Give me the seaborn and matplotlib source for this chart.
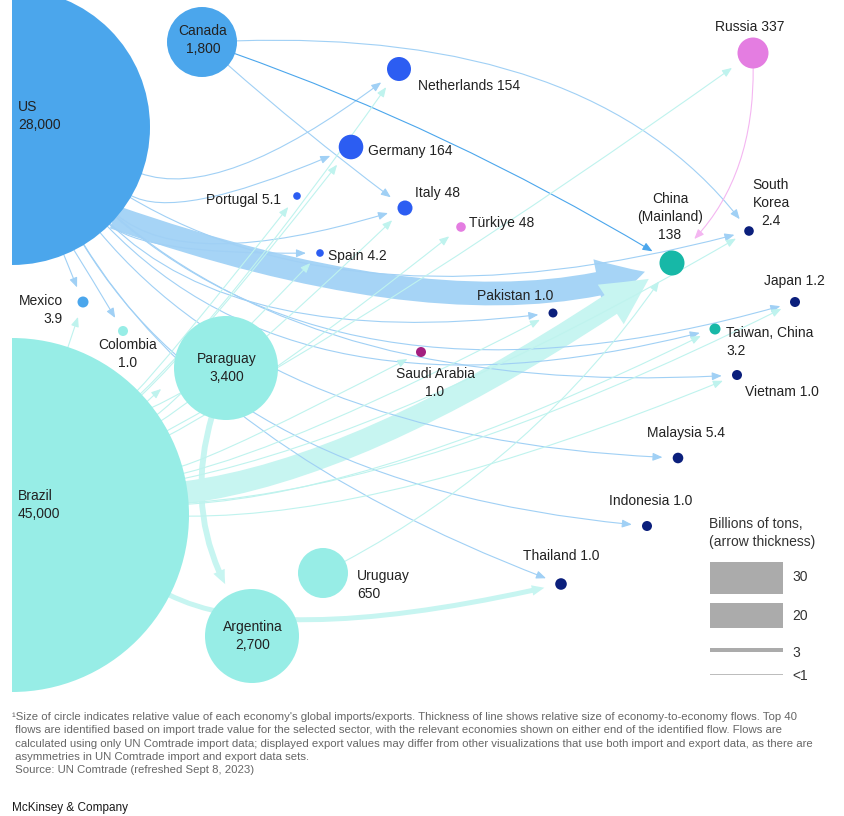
import numpy as np
import pandas as pd
import matplotlib
matplotlib.use("Agg")
import matplotlib.pyplot as plt
import seaborn as sns
from matplotlib.patches import FancyArrowPatch, ArrowStyle, Rectangle
from matplotlib.path import Path

# ---- data ---------------------------------------------------------------
economies = ["US", "Canada", "Mexico", "Colombia", "Brazil", "Paraguay", "Uruguay",
             "Argentina", "Netherlands", "Germany", "Portugal", "Italy", "Türkiye",
             "Spain", "Russia", "China", "South Korea", "Japan", "Taiwan", "Vietnam",
             "Pakistan", "Saudi Arabia", "Malaysia", "Indonesia", "Thailand"]
trade_values = [28000, 1800, 3.9, 1.0, 45000, 3400, 650,
                2700, 154, 164, 5.1, 48, 48,
                4.2, 337, 138, 2.4, 1.2, 3.2, 1.0,
                1.0, 1.0, 5.4, 1.0, 1.0]

# flows: billions of tons (0.5 = "<1")
flow_src = ["US", "Brazil", "Paraguay", "Brazil",
            "US", "US", "US", "US", "US", "US", "US", "US", "US", "US", "US", "US",
            "US", "US",
            "Canada", "Canada", "Canada",
            "Brazil", "Brazil", "Brazil", "Brazil", "Brazil", "Brazil", "Brazil",
            "Brazil", "Brazil", "Brazil", "Brazil", "Brazil", "Brazil", "Brazil",
            "Uruguay", "Paraguay", "Russia"]
flow_dst = ["China", "China", "Argentina", "Thailand",
            "Netherlands", "Germany", "Italy", "Spain", "South Korea", "Pakistan",
            "Japan", "Taiwan", "Vietnam", "Malaysia", "Indonesia", "Thailand",
            "Mexico", "Colombia",
            "China", "South Korea", "Italy",
            "Mexico", "Portugal", "Germany", "Netherlands", "Italy", "Spain", "Türkiye",
            "Russia", "South Korea", "Japan", "Taiwan", "Vietnam", "Pakistan",
            "Saudi Arabia",
            "China", "Brazil", "China"]
flow_val = [19, 18, 4.5, 3.8] + [0.5] * 34

legend_vals = [30, 20, 3, 0.5]
legend_labels = ["30", "20", "3", "<1"]

footnote = ("¹Size of circle indicates relative value of each economy's global imports/exports. "
            "Thickness of line shows relative size of economy-to-economy flows. Top 40\n"
            " flows are identified based on import trade value for the selected sector, with the "
            "relevant economies shown on either end of the identified flow. Flows are\n"
            " calculated using only UN Comtrade import data; displayed export values may differ "
            "from other visualizations that use both import and export data, as there are\n"
            " asymmetries in UN Comtrade import and export data sets.\n"
            " Source: UN Comtrade (refreshed Sept 8, 2023)")

# ---- layout (pixel space) ----------------------------------------------
node_xy = {"US": (12, 127), "Canada": (202, 42), "Mexico": (83, 302), "Colombia": (123, 331),
           "Brazil": (12, 515), "Paraguay": (226, 368), "Uruguay": (323, 573),
           "Argentina": (252, 636), "Netherlands": (399, 69), "Germany": (351, 147),
           "Portugal": (297, 196), "Italy": (405, 208), "Türkiye": (461, 227),
           "Spain": (320, 253), "Russia": (753, 53), "China": (672, 263),
           "South Korea": (749, 231), "Japan": (795, 302), "Taiwan": (715, 329),
           "Vietnam": (737, 375), "Pakistan": (553, 313), "Saudi Arabia": (421, 352),
           "Malaysia": (678, 458), "Indonesia": (647, 526), "Thailand": (561, 584)}
node_r = {"US": 138, "Canada": 35, "Mexico": 5.5, "Colombia": 5, "Brazil": 177,
          "Paraguay": 52, "Uruguay": 25, "Argentina": 47, "Netherlands": 12,
          "Germany": 12.3, "Portugal": 3.8, "Italy": 7.5, "Türkiye": 4.8, "Spain": 3.8,
          "Russia": 15.5, "China": 12.5, "South Korea": 4.8, "Japan": 5, "Taiwan": 5.5,
          "Vietnam": 5, "Pakistan": 4.5, "Saudi Arabia": 5, "Malaysia": 5.3,
          "Indonesia": 5, "Thailand": 5.8}

BLUE, TEAL, ROYAL, PINK = "#4BA6EC", "#97EDE6", "#2C5DF2", "#E47DE1"
GREEN, NAVY, PLUM = "#17B8A7", "#0B1F7C", "#A31F80"
node_color = {"US": BLUE, "Canada": BLUE, "Mexico": BLUE, "Colombia": TEAL, "Brazil": TEAL,
              "Paraguay": TEAL, "Uruguay": TEAL, "Argentina": TEAL, "Netherlands": ROYAL,
              "Germany": ROYAL, "Portugal": ROYAL, "Italy": ROYAL, "Spain": ROYAL,
              "Türkiye": PINK, "Russia": PINK, "China": GREEN, "Taiwan": GREEN,
              "South Korea": NAVY, "Japan": NAVY, "Vietnam": NAVY, "Pakistan": NAVY,
              "Malaysia": NAVY, "Indonesia": NAVY, "Thailand": NAVY, "Saudi Arabia": PLUM}

flow_color = {"US": "#A0D0F5", "Canada": "#A0D0F5", "Brazil": "#BFF3EE",
              "Paraguay": "#BFF3EE", "Uruguay": "#BFF3EE", "Russia": "#F4B6F1"}
band_color = {"US": "#A6D4F6", "Brazil": "#C7F5F1", "Paraguay": "#C7F5F1"}

# (bend, along-shift, exit angle in degrees or None, extra gap)
flow_shape = {("US", "China"): (0.17, 0.2, 41.5, 0), ("Brazil", "China"): (0.12, 0, None, 0),
              ("Paraguay", "Argentina"): (0.2, 0, None, 0),
              ("Brazil", "Thailand"): (0.18, 0, None, 0),
              ("US", "Netherlands"): (0.27, 0, None, 0), ("US", "Germany"): (0.25, 0, None, 0),
              ("US", "Italy"): (0.27, 0, None, 0), ("US", "Spain"): (0.21, 0, None, 0),
              ("US", "South Korea"): (0.21, 0, None, 0), ("US", "Pakistan"): (0.24, 0, None, 0),
              ("US", "Japan"): (0.27, 0, None, 0), ("US", "Taiwan"): (0.29, 0, None, 0),
              ("US", "Vietnam"): (0.2, 0, None, 0), ("US", "Malaysia"): (0.22, 0, None, 0),
              ("US", "Indonesia"): (0.25, 0, None, 0), ("US", "Thailand"): (0.17, 0, None, 0),
              ("US", "Mexico"): (0.0, 0, None, 0), ("US", "Colombia"): (0.02, 0, None, 0),
              ("Canada", "China"): (-0.05, 0, None, 0),
              ("Canada", "South Korea"): (-0.24, 0.126, None, 0),
              ("Canada", "Italy"): (0.02, 0, None, 0), ("Brazil", "Mexico"): (0.0, 0, None, 0),
              ("Brazil", "Portugal"): (0.03, 0, None, 0), ("Brazil", "Germany"): (0.04, 0, None, 0),
              ("Brazil", "Netherlands"): (0.05, 0, None, 0), ("Brazil", "Italy"): (0.05, 0, None, 0),
              ("Brazil", "Spain"): (0.05, 0, None, 0), ("Brazil", "Türkiye"): (0.05, 0, None, 0),
              ("Brazil", "Russia"): (0.03, 0, None, 0),
              ("Brazil", "South Korea"): (0.08, 0, None, 0),
              ("Brazil", "Japan"): (0.1, 0, None, 0), ("Brazil", "Taiwan"): (0.1, 0, None, 0),
              ("Brazil", "Vietnam"): (0.1, 0, None, 0), ("Brazil", "Pakistan"): (0.06, 0, None, 0),
              ("Brazil", "Saudi Arabia"): (0.05, 0, None, 0),
              ("Uruguay", "China"): (0.12, 0, None, 0),
              ("Paraguay", "Brazil"): (0.05, 0, None, 8), ("Russia", "China"): (-0.2, 0, None, 10)}

display_name = {"China": "China\n(Mainland)", "South Korea": "South\nKorea",
                "Taiwan": "Taiwan, China"}
# x, y, ha, separator between name and value
label_layout = {"US": (18, 116, "left", "\n"), "Canada": (203, 40, "center", "\n"),
                "Mexico": (63, 310, "right", "\n"), "Colombia": (128, 354, "center", "\n"),
                "Brazil": (18, 505, "left", "\n"), "Paraguay": (227, 368, "center", "\n"),
                "Uruguay": (357, 585, "left", "\n"), "Argentina": (253, 636, "center", "\n"),
                "Netherlands": (418, 86, "left", " "), "Germany": (368, 151, "left", " "),
                "Portugal": (281, 200, "right", " "), "Italy": (415, 193, "left", " "),
                "Türkiye": (469, 223, "left", " "), "Spain": (328, 256, "left", " "),
                "Russia": (750, 27, "center", " "), "China": (670, 217, "center", "\n"),
                "South Korea": (771, 203, "center", "\n"), "Japan": (764, 281, "left", " "),
                "Taiwan": (726, 342, "left", "\n"), "Vietnam": (745, 392, "left", " "),
                "Pakistan": (477, 296, "left", " "), "Saudi Arabia": (435, 383, "center", "\n"),
                "Malaysia": (647, 433, "left", " "), "Indonesia": (609, 501, "left", " "),
                "Thailand": (523, 556, "left", " ")}

PT = 72 / 100  # points per pixel at dpi 100


def thick_px(v):
    return np.interp(v, [0, 1, 3, 20, 30], [1, 1, 4, 25, 32])


def fmt(v):
    return f"{v:,.0f}" if v >= 10 else f"{v:.1f}"


# ---- figure -------------------------------------------------------------
sns.set_theme(style="white")
plt.rcParams["font.family"] = ["Liberation Sans", "DejaVu Sans"]

fig = plt.figure(figsize=(8.44, 8.16), dpi=100)
ax = fig.add_axes([0, 0, 1, 1])

# flows
for s, d, v in zip(flow_src, flow_dst, flow_val):
    bend, shift, exit_deg, extra = flow_shape[(s, d)]
    p0, p2 = np.array(node_xy[s], float), np.array(node_xy[d], float)
    vec = p2 - p0
    L = np.hypot(*vec)
    u = vec / L
    perp = np.array([-u[1], u[0]])
    ctrl = (p0 + p2) / 2 + bend * L * perp + shift * L * u
    if exit_deg is None:
        dvec = (ctrl - p0) / np.hypot(*(ctrl - p0))
    else:
        dvec = np.array([np.cos(np.radians(exit_deg)), np.sin(np.radians(exit_deg))])
    start = p0 + (node_r[s] - 2) * dvec
    w = thick_px(v)
    gap = node_r[d] + 10 + 0.25 * w + extra
    evec = (p2 - ctrl) / np.hypot(*(p2 - ctrl))
    end = p2 - gap * evec
    path = Path([start, ctrl, end], [Path.MOVETO, Path.CURVE3, Path.CURVE3])
    if v >= 2:
        style = ArrowStyle.Simple(head_length=(1.9 * w + 3) * PT, head_width=2.1 * w * PT,
                                  tail_width=w * PT)
        arr = FancyArrowPatch(path=path, arrowstyle=style, mutation_scale=1,
                              fc=band_color[s], ec="none", lw=0, zorder=2)
    else:
        col = BLUE if (s, d) == ("Canada", "China") else flow_color[s]
        style = ArrowStyle("-|>", head_length=8 * PT, head_width=3.3 * PT)
        arr = FancyArrowPatch(path=path, arrowstyle=style, mutation_scale=1, color=col,
                              lw=0.8, zorder=3)
    ax.add_patch(arr)

# nodes
nodes = pd.DataFrame({"economy": economies,
                      "x": [node_xy[e][0] for e in economies],
                      "y": [node_xy[e][1] for e in economies]})
sizes = np.array([(2 * node_r[e] * PT) ** 2 for e in economies])
sns.scatterplot(data=nodes, x="x", y="y", hue="economy", palette=node_color, s=sizes,
                linewidth=0, legend=False, zorder=5, ax=ax)
ax.collections[-1].set_clip_path(Rectangle((12, -200), 1000, 1200, transform=ax.transData))

# labels
for e, v in zip(economies, trade_values):
    x, y, ha, sep = label_layout[e]
    ax.text(x, y, display_name.get(e, e) + sep + fmt(v), ha=ha, va="center",
            fontsize=10, color="#222222", linespacing=1.38, zorder=6)

# legend for arrow thickness
ax.text(709, 533, "Billions of tons,\n(arrow thickness)", ha="left", va="center",
        fontsize=10, color="#333333", linespacing=1.38)
leg_y = [578, 615.5, 650, 674]
leg_txt_y = [577, 616, 653, 676]
for v, lab, y, ty in zip(legend_vals, legend_labels, leg_y, leg_txt_y):
    h = thick_px(v)
    ax.add_patch(Rectangle((710, y - h / 2), 73, h, fc="#ABABAB" if v >= 1 else "#BDBDBD",
                           ec="none"))
    ax.text(792, ty, lab, ha="left", va="center", fontsize=10, color="#333333")

ax.text(12, 712, footnote, ha="left", va="top", fontsize=8.2, color="#666666",
        linespacing=1.42)
ax.text(12, 808, "McKinsey & Company", ha="left", va="center", fontsize=8.5,
        color="#1a1a1a")

ax.set_xlim(0, 844)
ax.set_ylim(816, 0)
ax.axis("off")
fig.savefig("out.png", dpi=100)
